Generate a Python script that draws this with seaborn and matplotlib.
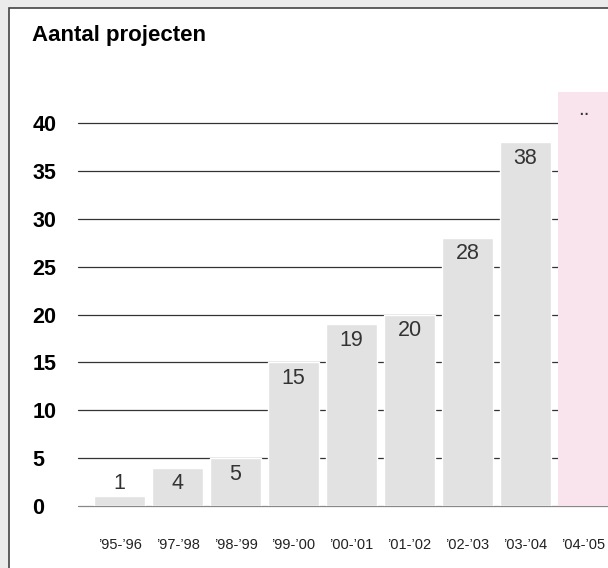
"""Aantal projecten per jaar — bar chart with highlighted (unknown) last period."""

import matplotlib

matplotlib.use("Agg")
import matplotlib.pyplot as plt
import pandas as pd
import seaborn as sns
from matplotlib.patches import Rectangle

# ---------------------------------------------------------------------------
# Data
# ---------------------------------------------------------------------------

periods = ["\u201995-\u201996", "\u201997-\u201998", "\u201998-\u201999", "\u201999-\u201900",
           "\u201900-\u201901", "\u201901-\u201902", "\u201902-\u201903", "\u201903-\u201904",
           "\u201904-\u201905"]
counts = [1, 4, 5, 15, 19, 20, 28, 38]          # last period unknown ("..")
pending_period = "\u201904-\u201905"
pending_label = ".."
y_ticks = [0, 5, 10, 15, 20, 25, 30, 35, 40]
title = "Aantal projecten"

BAR_COLOR = "#e1e2e1"
PENDING_COLOR = "#f9e3ec"
FRAME_BG = "#ebebeb"

# ---------------------------------------------------------------------------
# Figure
# ---------------------------------------------------------------------------

sns.set_style("white")
plt.rcParams["font.family"] = ["Liberation Sans Narrow", "Liberation Sans", "DejaVu Sans"]
plt.rcParams["text.color"] = "black"
plt.rcParams["xtick.color"] = "black"
plt.rcParams["ytick.color"] = "black"

W, H = 608, 568
fig = plt.figure(figsize=(W / 100, H / 100), dpi=100)
fig.patch.set_facecolor(FRAME_BG)

# white panel with dark frame on left/top
fig.patches.append(Rectangle((9 / W, -0.1), 1.2, 1.1 - 8 / H, transform=fig.transFigure,
                             facecolor="white", edgecolor="#444444", linewidth=1.2,
                             zorder=-10))

ax = fig.add_axes([78 / W, 62 / H, 1 - 78 / W, (506 - 92) / H])
ax.set_facecolor("none")
ax.set_zorder(5)

df = pd.DataFrame({"period": periods[:len(counts)], "count": counts})
sns.barplot(data=df, x="period", y="count", order=periods, color=BAR_COLOR,
            width=0.88, saturation=1, ax=ax, zorder=2)

y_top = 43.24
ax.set_ylim(0, y_top)
ax.set_xlim(-0.716, 8.422)

# pending period: pink column spanning full height
pos = periods.index(pending_period)
ax.bar(pos, y_top, width=0.88, color=PENDING_COLOR, zorder=2, linewidth=0)
ax.annotate(pending_label, xy=(pos, y_top), xytext=(0, -12.5), textcoords="offset points",
            ha="center", va="center", fontsize=15, color="#333333")

# value labels
for i, v in enumerate(counts):
    ax.annotate(str(v), xy=(i, max(v, 4)), xytext=(0, -11.5), textcoords="offset points",
                ha="center", va="center", fontsize=15.5, color="#333333", zorder=3)

# horizontal grid lines
for t in y_ticks:
    ax.axhline(t, color="#888888" if t == 0 else "#333333", linewidth=0.9,
               zorder=1, clip_on=False)

for s in ax.spines.values():
    s.set_visible(False)

ax.set_yticks(y_ticks)
ax.set_yticklabels([str(t) for t in y_ticks], fontsize=15.5, fontweight="bold", ha="left")
ax.tick_params(axis="y", length=0, pad=33)
ax.tick_params(axis="x", length=0, pad=23, labelsize=10.5, labelcolor="#222222")
ax.set_xlabel("")
ax.set_ylabel("")

fig.text(32 / W, 1 - 35 / H, title, fontsize=16, fontweight="bold", va="center", ha="left")

fig.savefig("out.png", dpi=100, facecolor=fig.get_facecolor())
